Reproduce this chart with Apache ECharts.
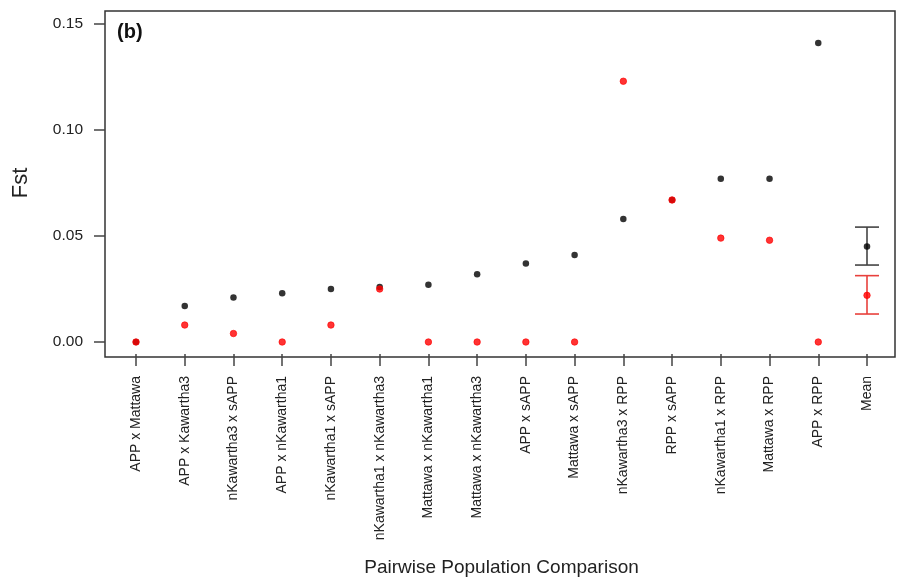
<!DOCTYPE html>
<html>
<head>
<meta charset="utf-8">
<script src="https://cdn.jsdelivr.net/npm/echarts@6/dist/echarts.min.js"></script>
<style>html,body{margin:0;padding:0;background:#fff}#c{width:901px;height:582px}</style>
</head>
<body>
<div id="c"></div>
<script>
var categories = ["APP x Mattawa","APP x Kawartha3","nKawartha3 x sAPP","APP x nKawartha1","nKawartha1 x sAPP","nKawartha1 x nKawartha3","Mattawa x nKawartha1","Mattawa x nKawartha3","APP x sAPP","Mattawa x sAPP","nKawartha3 x RPP","RPP x sAPP","nKawartha1 x RPP","Mattawa x RPP","APP x RPP","Mean"];
var blackValues = [0, 0.017, 0.021, 0.023, 0.025, 0.026, 0.027, 0.032, 0.037, 0.041, 0.058, 0.067, 0.077, 0.077, 0.141, 0.045];
var redValues   = [0, 0.008, 0.004, 0, 0.008, 0.025, 0, 0, 0, 0, 0.123, 0.067, 0.049, 0.048, 0, 0.022];
var blackMeanLow = 0.0363, blackMeanHigh = 0.0542;
var redMeanLow = 0.0132, redMeanHigh = 0.0313;
var yTicks = [0, 0.05, 0.10, 0.15];

var FONT = "'Liberation Sans', Arial, sans-serif";
var chart = echarts.init(document.getElementById('c'), null, {renderer: 'canvas'});

function errBar(color, low, high) {
  return {
    type: 'custom', xAxisIndex: 0, yAxisIndex: 0, z: 1,
    data: [[categories.length - 1, low, high]],
    renderItem: function (params, api) {
      var lo = api.coord([api.value(0), api.value(1)]);
      var hi = api.coord([api.value(0), api.value(2)]);
      var w = 12;
      var st = {stroke: color, lineWidth: 1.6};
      return {type: 'group', children: [
        {type: 'line', shape: {x1: lo[0], y1: lo[1], x2: hi[0], y2: hi[1]}, style: st},
        {type: 'line', shape: {x1: lo[0]-w, y1: lo[1], x2: lo[0]+w, y2: lo[1]}, style: st},
        {type: 'line', shape: {x1: hi[0]-w, y1: hi[1], x2: hi[0]+w, y2: hi[1]}, style: st}
      ]};
    }
  };
}

chart.setOption({
  animation: false,
  title: {text: '(b)', left: 117, top: 22, padding: 0, textStyle: {fontFamily: FONT, fontWeight: 'bold', fontSize: 20, color: '#111'}},
  grid: [
    {left: 136, right: 34, top: 24, height: 321},
    {left: 105, right: 6, top: 11, height: 346, show: true, borderColor: '#333', borderWidth: 1.5, backgroundColor: 'transparent'}
  ],
  xAxis: [
    {type: 'category', gridIndex: 0, data: categories, boundaryGap: false, offset: 12, position: 'bottom',
     axisLine: {show: false, onZero: false}, axisTick: {show: true, inside: false, length: 12, lineStyle: {color: '#444', width: 1.5}},
     axisLabel: {interval: 0, rotate: 90, margin: 22, fontFamily: FONT, fontSize: 14, color: '#222'},
     name: 'Pairwise Population Comparison', nameLocation: 'middle', nameGap: 204,
     nameTextStyle: {fontFamily: FONT, fontSize: 19, color: '#222'}},
    {type: 'value', gridIndex: 1, show: false}
  ],
  yAxis: [
    {type: 'value', gridIndex: 0, min: yTicks[0], max: yTicks[yTicks.length-1], interval: 0.05, offset: 31,
     axisLine: {show: false, onZero: false}, splitLine: {show: false},
     axisTick: {show: true, inside: false, length: 11, lineStyle: {color: '#444', width: 1.5}},
     axisLabel: {margin: 22, fontFamily: FONT, fontSize: 15.5, color: '#222', formatter: function (v) { return v.toFixed(2); }},
     name: 'Fst', nameLocation: 'middle', nameGap: 73, nameRotate: 90,
     nameTextStyle: {fontFamily: FONT, fontSize: 22, color: '#222'}},
    {type: 'value', gridIndex: 1, show: false}
  ],
  series: [
    errBar('#444444', blackMeanLow, blackMeanHigh),
    errBar('#e8403c', redMeanLow, redMeanHigh),
    {type: 'scatter', xAxisIndex: 0, yAxisIndex: 0, data: blackValues, symbol: 'circle', symbolSize: 6.5,
     itemStyle: {color: '#000'}, z: 2},
    {type: 'scatter', xAxisIndex: 0, yAxisIndex: 0, data: redValues, symbol: 'circle', symbolSize: 6.5,
     itemStyle: {color: '#ff0000', borderColor: '#ff0000', borderWidth: 0.8}, z: 3}
  ]
});
</script>
</body>
</html>
